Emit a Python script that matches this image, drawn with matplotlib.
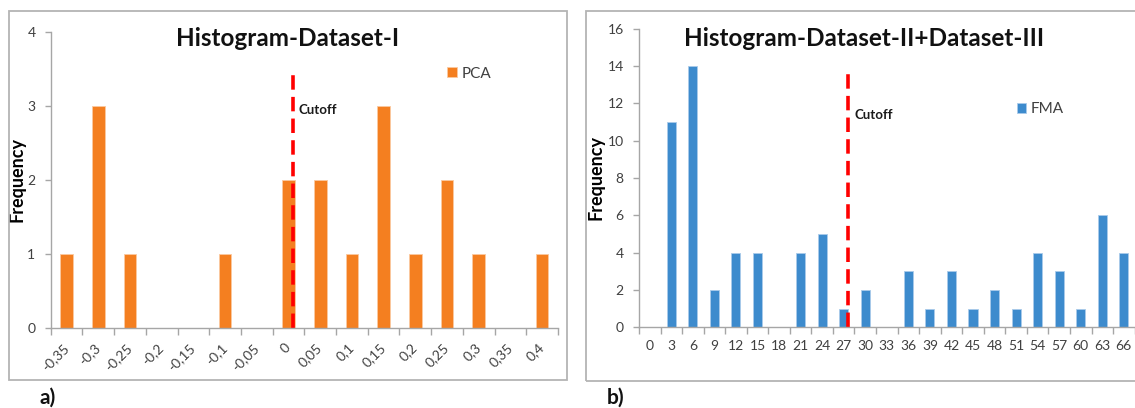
import matplotlib
matplotlib.use("Agg")
import matplotlib.pyplot as plt
from matplotlib.patches import Rectangle
import numpy as np

plt.rcParams["font.family"] = ["Lato", "DejaVu Sans"]

# ---- data ----
pca_bins = ["-0,35", "-0,3", "-0,25", "-0,2", "-0,15", "-0,1", "-0,05", "0",
            "0,05", "0,1", "0,15", "0,2", "0,25", "0,3", "0,35", "0,4"]
pca_freq = [1, 3, 1, 0, 0, 1, 0, 2, 2, 1, 3, 1, 2, 1, 0, 1]
pca_cutoff = 7.15      # in bin units, just right of the "0" bar
pca_cutoff_top = 3.5

fma_bins = ["0", "3", "6", "9", "12", "15", "18", "21", "24", "27", "30", "33",
            "36", "39", "42", "45", "48", "51", "54", "57", "60", "63", "66"]
fma_freq = [0, 11, 14, 2, 4, 4, 0, 4, 5, 1, 2, 0, 3, 1, 3, 1, 2, 1, 4, 3, 1, 6, 4]
fma_cutoff = 9.21
fma_cutoff_top = 13.7

ORANGE = "#F47F20"
BLUE = "#3D8BCD"
AXIS = "#A6A6A6"
TXT = "#404040"

W, H = 1135, 408
fig = plt.figure(figsize=(W / 100, H / 100), dpi=100)


def px(x0, y0, x1, y1):
    # pixel box (top-left origin) -> figure fraction rect
    return [x0 / W, 1 - y1 / H, (x1 - x0) / W, (y1 - y0) / H]


# panel frames
for x0, y0, x1, y1 in [(9, 11, 567, 380), (586, 11, 1145, 381)]:
    fig.patches.append(Rectangle((x0 / W, 1 - y1 / H), (x1 - x0) / W, (y1 - y0) / H,
                                 transform=fig.transFigure, fill=False,
                                 edgecolor="#B4B4B4", lw=1.3))


def style(ax, labels, ymax, ystep, rot):
    n = len(labels)
    ax.set_xlim(-0.5, n - 0.5)
    ax.set_ylim(0, ymax)
    ax.set_yticks(np.arange(0, ymax + 0.1, ystep))
    ax.set_xticks(np.arange(n + 1) - 0.5)
    ax.set_xticklabels([])
    ax.set_xticks(np.arange(n), minor=True)
    if rot:
        ax.set_xticklabels(labels, minor=True, rotation=45, ha="right", va="center",
                           rotation_mode="anchor")
    else:
        ax.set_xticklabels(labels, minor=True)
    ax.tick_params(axis="x", which="major", length=5, color=AXIS, width=1)
    ax.tick_params(axis="x", which="minor", length=0, pad=13 if rot else 9,
                   labelsize=10, labelcolor=TXT)
    ax.tick_params(axis="y", length=4, color=AXIS, width=1, labelsize=10,
                   labelcolor=TXT, pad=7)
    for s in ("top", "right"):
        ax.spines[s].set_visible(False)
    for s in ("left", "bottom"):
        ax.spines[s].set_color(AXIS)
        ax.spines[s].set_linewidth(1)
    ax.set_facecolor("none")


# ---- a) PCA ----
ax1 = fig.add_axes(px(50.7, 32.3, 558, 327.7))
ax1.bar(np.arange(len(pca_bins)), pca_freq, width=0.4, color=ORANGE,
        edgecolor="#FBC9A0", linewidth=0.6, label="PCA")
style(ax1, pca_bins, 4, 1, True)
ax1.plot([pca_cutoff, pca_cutoff], [0, pca_cutoff_top], color="#FF0000", lw=2.6,
         ls=(0, (4, 2)))
ax1.text(pca_cutoff + 0.17, 2.95, "Cutoff", fontsize=9.5, fontweight="bold",
         color="#1a1a1a", va="center")
ax1.legend(loc="upper left", bbox_to_anchor=(0.755, 0.93), frameon=False,
           fontsize=11, handlelength=0.6, handleheight=0.6, handletextpad=0.3,
           labelcolor=TXT)
ax1.set_ylabel("Frequency", fontsize=13, fontweight="bold")
ax1.yaxis.set_label_coords(-0.05, 0.5)
fig.text(288 / W, 1 - 38 / H, "Histogram-Dataset-I", fontsize=17.5, fontweight="bold",
         ha="center", va="center", color="#111111")
fig.text(48 / W, 1 - 398 / H, "a)", fontsize=15, fontweight="bold",
         ha="center", va="center", color="#111111")

# ---- b) FMA ----
ax2 = fig.add_axes(px(639, 28.7, 1134.6, 327.3))
ax2.bar(np.arange(len(fma_bins)), fma_freq, width=0.42, color=BLUE,
        edgecolor="#A9CBEA", linewidth=0.6, label="FMA")
style(ax2, fma_bins, 16, 2, False)
ax2.plot([fma_cutoff, fma_cutoff], [0, fma_cutoff_top], color="#FF0000", lw=2.6,
         ls=(0, (4, 2)))
ax2.text(fma_cutoff + 0.27, 11.4, "Cutoff", fontsize=9.5, fontweight="bold",
         color="#1a1a1a", va="center")
ax2.legend(loc="upper left", bbox_to_anchor=(0.735, 0.8), frameon=False,
           fontsize=11, handlelength=0.6, handleheight=0.6, handletextpad=0.3,
           labelcolor=TXT)
ax2.set_ylabel("Frequency", fontsize=13, fontweight="bold")
ax2.yaxis.set_label_coords(-0.07, 0.5)
fig.text(864 / W, 1 - 38 / H, "Histogram-Dataset-II+Dataset-III", fontsize=17.5,
         fontweight="bold", ha="center", va="center", color="#111111")
fig.text(616 / W, 1 - 398 / H, "b)", fontsize=15, fontweight="bold",
         ha="center", va="center", color="#111111")

fig.savefig("out.png", dpi=100)
